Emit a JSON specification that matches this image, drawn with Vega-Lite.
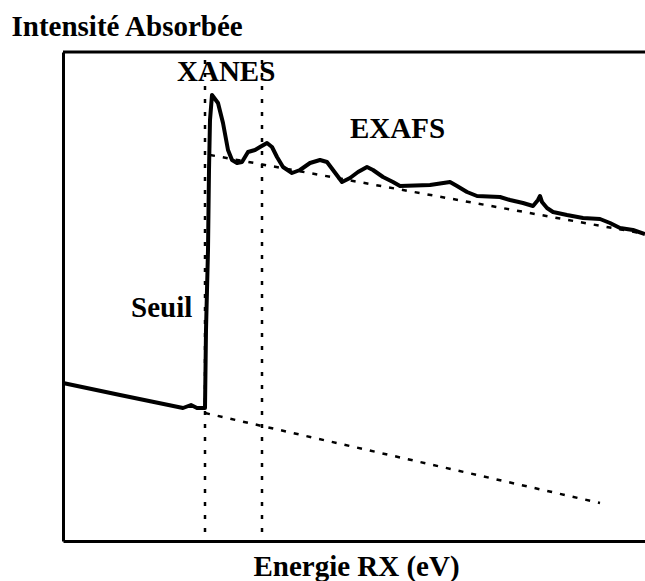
{
  "$schema": "https://vega.github.io/schema/vega-lite/v6.json",
  "autosize": {"type": "none"},
  "width": 582,
  "height": 489,
  "padding": {"left": 63, "top": 52, "right": 0, "bottom": 40},
  "background": "white",
  "config": {
    "view": {"stroke": null},
    "font": "Liberation Serif",
    "axis": {"grid": false, "ticks": false, "labels": false, "domainColor": "black", "domainWidth": 3}
  },
  "datasets": {
    "curve": [
      {"e": 0, "mu": 158}, {"e": 57, "mu": 146}, {"e": 120, "mu": 133}, {"e": 128, "mu": 136},
      {"e": 134, "mu": 133}, {"e": 142, "mu": 133}, {"e": 143, "mu": 211}, {"e": 145, "mu": 291},
      {"e": 146, "mu": 371}, {"e": 147, "mu": 421}, {"e": 149, "mu": 446}, {"e": 155, "mu": 438},
      {"e": 160, "mu": 418}, {"e": 165, "mu": 391}, {"e": 169, "mu": 381}, {"e": 174, "mu": 378},
      {"e": 179, "mu": 379}, {"e": 185, "mu": 389}, {"e": 192, "mu": 391}, {"e": 197, "mu": 394},
      {"e": 204, "mu": 398}, {"e": 209, "mu": 394}, {"e": 214, "mu": 384}, {"e": 220, "mu": 374},
      {"e": 229, "mu": 368}, {"e": 237, "mu": 371}, {"e": 247, "mu": 378}, {"e": 257, "mu": 381},
      {"e": 264, "mu": 379}, {"e": 270, "mu": 371}, {"e": 279, "mu": 359}, {"e": 287, "mu": 363},
      {"e": 295, "mu": 369}, {"e": 304, "mu": 374}, {"e": 310, "mu": 371}, {"e": 320, "mu": 364},
      {"e": 330, "mu": 359}, {"e": 337, "mu": 355}, {"e": 367, "mu": 356}, {"e": 387, "mu": 359},
      {"e": 394, "mu": 355}, {"e": 404, "mu": 349}, {"e": 414, "mu": 345}, {"e": 437, "mu": 344},
      {"e": 447, "mu": 341}, {"e": 460, "mu": 338}, {"e": 470, "mu": 335}, {"e": 475, "mu": 341},
      {"e": 477, "mu": 345}, {"e": 479, "mu": 339}, {"e": 484, "mu": 333}, {"e": 490, "mu": 329},
      {"e": 504, "mu": 326}, {"e": 520, "mu": 323}, {"e": 537, "mu": 322}, {"e": 547, "mu": 318},
      {"e": 557, "mu": 313}, {"e": 570, "mu": 311}, {"e": 582, "mu": 307}
    ],
    "trends": [
      {"part": "post", "e": 147, "mu": 386}, {"part": "post", "e": 577, "mu": 308},
      {"part": "pre", "e": 142, "mu": 128}, {"part": "pre", "e": 537, "mu": 38}
    ],
    "bounds": [
      {"part": "edge", "e": 142, "mu": 9}, {"part": "edge", "e": 142, "mu": 489},
      {"part": "xanes", "e": 199, "mu": 9}, {"part": "xanes", "e": 199, "mu": 489}
    ],
    "labels": [
      {"e": 114, "mu": 460, "text": "XANES"},
      {"e": 287, "mu": 403, "text": "EXAFS"},
      {"e": 68, "mu": 224, "text": "Seuil"}
    ]
  },
  "resolve": {"scale": {"x": "shared", "y": "shared"}},
  "layer": [
    {"data": {"name": "curve"}, "mark": {"type": "line", "color": "black", "strokeWidth": 4, "strokeJoin": "round"},
      "encoding": {
        "x": {"field": "e", "type": "quantitative", "scale": {"domain": [0, 582], "nice": false, "zero": false},
          "axis": {"title": "Energie RX (eV)", "titleFont": "Liberation Serif", "titleFontSize": 29, "titleFontWeight": "bold", "titleColor": "black", "titleBaseline": "alphabetic", "titleAlign": "center", "titleX": 293, "titleY": 34}},
        "y": {"field": "mu", "type": "quantitative", "scale": {"domain": [0, 489], "nice": false, "zero": false},
          "axis": {"title": "Intensité Absorbée", "titleFont": "Liberation Serif", "titleFontSize": 29, "titleFontWeight": "bold", "titleColor": "black", "titleAngle": 0, "titleAlign": "left", "titleBaseline": "alphabetic", "titleX": -52, "titleY": -17}}
      }},
    {"data": {"name": "bounds"}, "mark": {"type": "line", "color": "black", "strokeWidth": 2.5, "strokeDash": [4, 9]},
      "encoding": {"x": {"field": "e", "type": "quantitative"}, "y": {"field": "mu", "type": "quantitative"}, "detail": {"field": "part"}}},
    {"data": {"name": "trends"}, "mark": {"type": "line", "color": "black", "strokeWidth": 2.5, "strokeDash": [5, 8]},
      "encoding": {"x": {"field": "e", "type": "quantitative"}, "y": {"field": "mu", "type": "quantitative"}, "detail": {"field": "part"}}},
    {"data": {"name": "labels"}, "mark": {"type": "text", "font": "Liberation Serif", "fontSize": 29, "fontWeight": "bold", "align": "left", "baseline": "alphabetic", "color": "black"},
      "encoding": {"x": {"field": "e", "type": "quantitative"}, "y": {"field": "mu", "type": "quantitative"}, "text": {"field": "text"}}},
    {"data": {"values": [{"mu": 489}]}, "mark": {"type": "rule", "color": "black", "strokeWidth": 3},
      "encoding": {"y": {"field": "mu", "type": "quantitative"}}}
  ]
}
